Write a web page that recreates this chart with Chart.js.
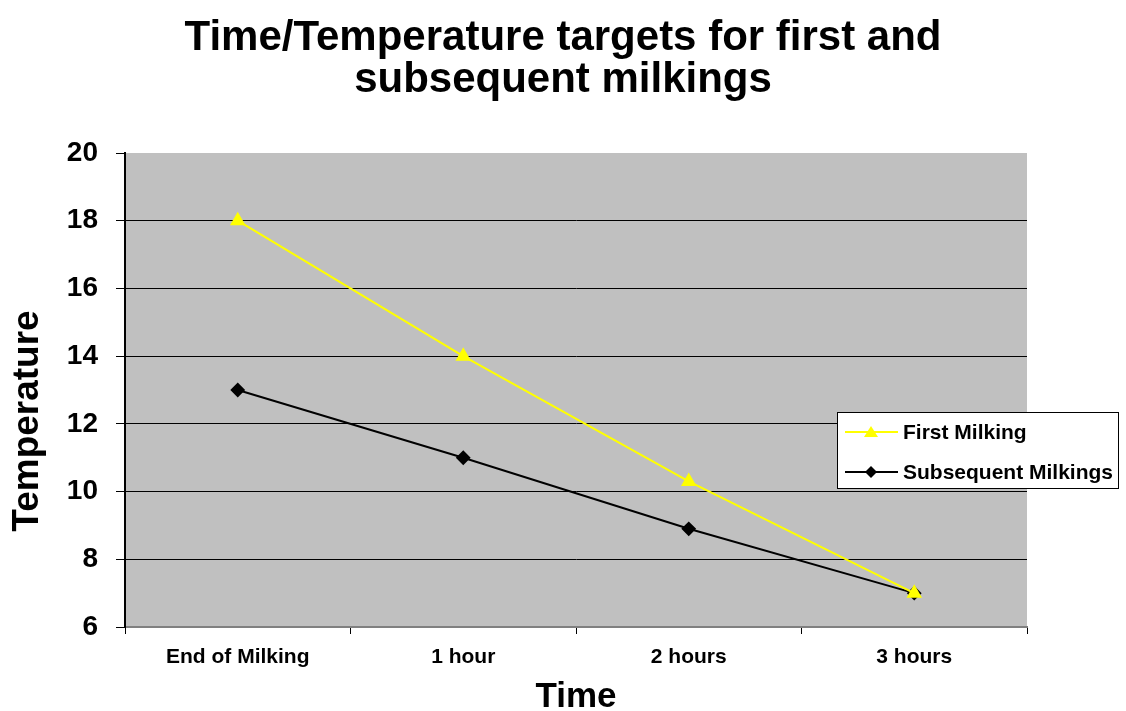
<!DOCTYPE html>
<html>
<head>
<meta charset="utf-8">
<script src="https://cdn.jsdelivr.net/npm/chart.js@4/dist/chart.umd.min.js"></script>
<style>
  html, body { margin: 0; padding: 0; background: #fff; }
  #wrap { width: 1126px; height: 711px; }
</style>
</head>
<body>
<div id="wrap"><canvas id="chart"></canvas></div>
<script>
const categories = ['End of Milking', '1 hour', '2 hours', '3 hours'];
const firstMilking = [18, 14, 10.3, 7];
const subsequentMilkings = [13, 11, 8.9, 7];
const yTicks = [6, 8, 10, 12, 14, 16, 18, 20];

const FONT = 'Arial, "Liberation Sans", sans-serif';

// grey plot background like the old Excel charts
const plotBackground = {
  id: 'plotBackground',
  beforeDraw(chart) {
    const { ctx, chartArea } = chart;
    ctx.save();
    ctx.fillStyle = '#c0c0c0';
    ctx.fillRect(chartArea.left, chartArea.top, chartArea.right - chartArea.left, chartArea.bottom - chartArea.top);
    ctx.restore();
  }
};

// y axis title sits a bit below the middle of the axis, so draw it by hand
const yTitle = {
  id: 'yTitle',
  afterDraw(chart) {
    const ctx = chart.ctx;
    ctx.save();
    ctx.translate(28, 421);
    ctx.rotate(-Math.PI / 2);
    ctx.font = 'bold 37px ' + FONT;
    ctx.fillStyle = '#000';
    ctx.textAlign = 'center';
    ctx.textBaseline = 'middle';
    ctx.fillText('Temperature', 0, 0);
    ctx.restore();
  }
};

// boxed legend sitting over the right side of the plot
const boxLegend = {
  id: 'boxLegend',
  afterDraw(chart) {
    const ctx = chart.ctx;
    const x = 837, y = 412, w = 281, h = 76;
    ctx.save();
    ctx.fillStyle = '#fff';
    ctx.fillRect(x, y, w, h);
    ctx.strokeStyle = '#000';
    ctx.lineWidth = 1;
    ctx.strokeRect(x + 0.5, y + 0.5, w, h);
    ctx.font = 'bold 21px ' + FONT;
    ctx.textBaseline = 'middle';
    chart.data.datasets.forEach((ds, i) => {
      const cy = y + 20 + i * 40;
      ctx.strokeStyle = ds.borderColor;
      ctx.lineWidth = 2;
      ctx.beginPath();
      ctx.moveTo(845, cy);
      ctx.lineTo(898, cy);
      ctx.stroke();
      ctx.fillStyle = ds.pointBackgroundColor;
      ctx.beginPath();
      if (ds.pointStyle === 'triangle') {
        ctx.moveTo(871, cy - 6);
        ctx.lineTo(878, cy + 5);
        ctx.lineTo(864, cy + 5);
      } else {
        ctx.moveTo(871, cy - 6);
        ctx.lineTo(877, cy);
        ctx.lineTo(871, cy + 6);
        ctx.lineTo(865, cy);
      }
      ctx.closePath();
      ctx.fill();
      ctx.fillStyle = '#000';
      ctx.fillText(ds.label, 903, cy + 1);
    });
    ctx.restore();
  }
};

new Chart(document.getElementById('chart'), {
  type: 'line',
  data: {
    labels: categories,
    datasets: [
      {
        label: 'First Milking',
        data: firstMilking,
        borderColor: '#ffff00',
        backgroundColor: '#ffff00',
        pointBackgroundColor: '#ffff00',
        pointBorderColor: '#ffff00',
        pointStyle: 'triangle',
        pointRadius: 7,
        borderWidth: 2,
        tension: 0
      },
      {
        label: 'Subsequent Milkings',
        data: subsequentMilkings,
        borderColor: '#000000',
        backgroundColor: '#000000',
        pointBackgroundColor: '#000000',
        pointBorderColor: '#000000',
        pointStyle: 'rectRot',
        pointRadius: 6,
        borderWidth: 2,
        tension: 0
      }
    ]
  },
  options: {
    responsive: true,
    maintainAspectRatio: false,
    animation: false,
    layout: { padding: 0 },
    plugins: {
      legend: { display: false },
      tooltip: { enabled: false },
      title: {
        display: true,
        text: ['Time/Temperature targets for first and', 'subsequent milkings'],
        color: '#000',
        font: { family: FONT, size: 42, weight: 'bold', lineHeight: 1.0 },
        padding: { top: 17, bottom: 52 }
      }
    },
    scales: {
      x: {
        offset: true,
        grid: {
          display: true,
          drawOnChartArea: false,
          offset: true,
          color: '#000',
          tickLength: 7
        },
        border: { color: '#808080', width: 2 },
        ticks: {
          color: '#000',
          font: { family: FONT, size: 21, weight: 'bold' },
          padding: 11
        },
        title: {
          display: true,
          text: 'Time',
          color: '#000',
          font: { family: FONT, size: 35, weight: 'bold', lineHeight: 0.8 },
          padding: { top: 6, bottom: 0 }
        },
        afterFit(scale) { scale.height = 84; }
      },
      y: {
        min: 6,
        max: 20,
        afterBuildTicks(scale) { scale.ticks = yTicks.map(v => ({ value: v })); },
        grid: {
          color: ctx => (ctx.tick && ctx.tick.value === 20 ? 'rgba(0,0,0,0)' : '#000'),
          tickColor: '#000',
          tickLength: 9
        },
        border: { color: '#000', width: 2 },
        ticks: {
          color: '#000',
          font: { family: FONT, size: 28, weight: 'bold' },
          padding: 18
        },
        afterFit(scale) { scale.width = 125; }
      },
      // empty right-hand axis: keeps the plot off the right edge while the title stays centred on the page
      yRight: {
        position: 'right',
        display: true,
        grid: { display: false },
        border: { display: false },
        ticks: { display: false },
        afterFit(scale) { scale.width = 99; }
      }
    }
  },
  plugins: [plotBackground, yTitle, boxLegend]
});
</script>
</body>
</html>
